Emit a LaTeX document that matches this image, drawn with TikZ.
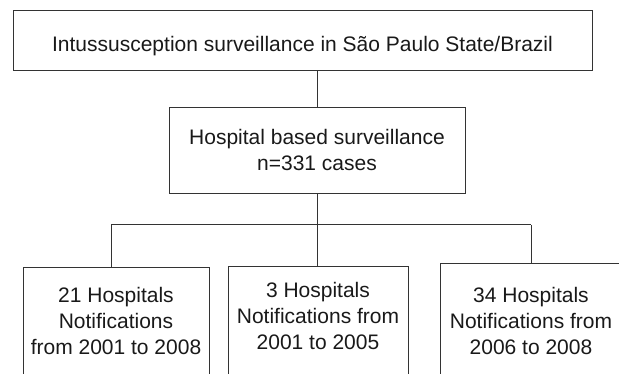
\documentclass[tikz,border=0pt]{standalone}
\usepackage{fontspec}
\setmainfont{Liberation Sans}
\usepackage{tikz}
\usetikzlibrary{calc,positioning}

\tikzset{
  flowbox/.style={draw=black!80, line width=1pt, rectangle, inner sep=0pt,
    align=center, text=black!90, font=\fontsize{21}{26}\selectfont},
  flowline/.style={draw=black!80, line width=1pt}
}

\begin{document}
\begin{tikzpicture}[x=1pt, y=-1pt]
          \clip (0,0) rectangle (619,374);

          \node[flowbox, anchor=north, minimum width=579pt, text height=41pt, text depth=19pt] (survey) at (302.5,10)
               {Intussusception surveillance in São Paulo State/Brazil};
          \node[flowbox, anchor=north, minimum width=296pt, text height=63pt, text depth=23pt] (hosp) at (317,107)
               {Hospital based surveillance\\ n=331 cases};

          \node[flowbox, anchor=north, minimum width=186pt, text height=87pt, text depth=40pt] (hospa) at (116,267)
               {21 Hospitals\\ Notifications\\ from 2001 to 2008};
          \node[flowbox, anchor=north, minimum width=180pt, text height=83pt, text depth=40pt] (hospb) at (318,266)
               {3 Hospitals\\ Notifications from\\ 2001 to 2005};
          \node[flowbox, anchor=north, minimum width=182pt, text height=91pt, text depth=40pt] (hospc) at (531,263)
               {34 Hospitals\\ Notifications from\\ 2006 to 2008};

          \coordinate (barl) at (111,225);
          \coordinate (barr) at (531,225);

          \draw[flowline] (hosp.north) -- (hosp.north |- survey.south);
          \draw[flowline] (hosp.south) -- (hosp.south |- barl);
          \draw[flowline] (barl) -- (barr);
          \draw[flowline] (barl) -- (barl |- hospa.north);
          \draw[flowline] (hosp.south |- barl) -- (hosp.south |- hospb.north);
          \draw[flowline] (barr) -- (hospc.north);
        \end{tikzpicture}
\end{document}
